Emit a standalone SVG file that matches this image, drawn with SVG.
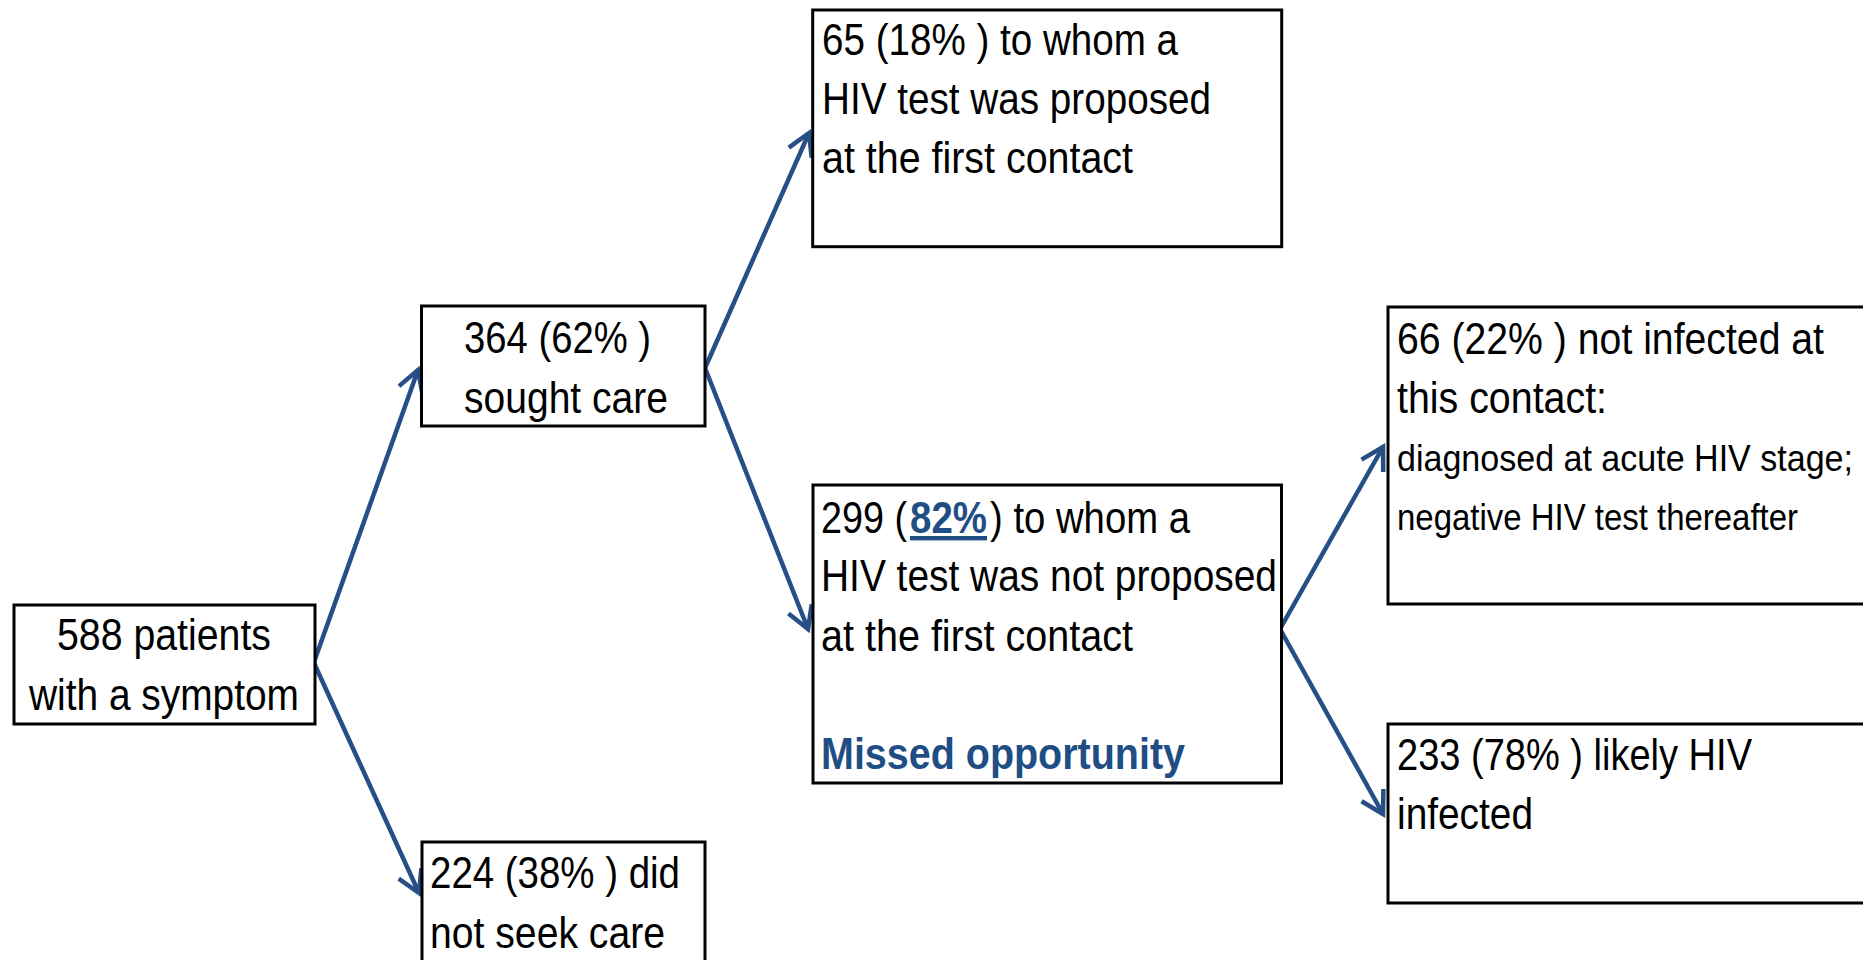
<svg xmlns="http://www.w3.org/2000/svg" width="1863" height="960" viewBox="0 0 1863 960">
<style>
.box{fill:#ffffff;stroke:#000000;stroke-width:3}
.t{font-family:"Liberation Sans",Arial,sans-serif;font-size:44px;fill:#000000}
.s{font-family:"Liberation Sans",Arial,sans-serif;font-size:37px;fill:#000000}
.b{font-family:"Liberation Sans",Arial,sans-serif;font-size:44px;font-weight:bold;fill:#1F4E85}
.u{text-decoration:underline}
.c{fill:none;stroke:#254F85;stroke-width:4.5}
</style>
<defs>
<marker id="arr" markerUnits="userSpaceOnUse" markerWidth="40" markerHeight="40" viewBox="-30 -20 40 40" refX="0" refY="0" orient="auto" overflow="visible">
<path d="M-21.6,-12.5 L0,0 L-21.6,12.5" fill="none" stroke="#254F85" stroke-width="4.5" stroke-linejoin="miter"/>
</marker>
</defs>
<rect width="1863" height="960" fill="#ffffff"/>
<g id="connectors">
<line class="c" x1="314" y1="662" x2="418" y2="370" marker-end="url(#arr)"/>
<line class="c" x1="314" y1="663" x2="419" y2="893" marker-end="url(#arr)"/>
<line class="c" x1="705" y1="368" x2="809" y2="133" marker-end="url(#arr)"/>
<line class="c" x1="705" y1="368" x2="808" y2="629" marker-end="url(#arr)"/>
<line class="c" x1="1280" y1="629" x2="1383" y2="447" marker-end="url(#arr)"/>
<line class="c" x1="1280" y1="629" x2="1383" y2="814" marker-end="url(#arr)"/>
</g>
<g id="n588">
<rect class="box" x="14" y="605" width="301" height="119"/>
<text class="t" x="57" y="650" textLength="214" lengthAdjust="spacingAndGlyphs">588 patients</text>
<text class="t" x="29" y="710" textLength="270" lengthAdjust="spacingAndGlyphs">with a symptom</text>
</g>
<g id="n364">
<rect class="box" x="421.5" y="306" width="283.5" height="120"/>
<text class="t" x="464" y="353" textLength="187" lengthAdjust="spacingAndGlyphs">364 (62% )</text>
<text class="t" x="464" y="413" textLength="204" lengthAdjust="spacingAndGlyphs">sought care</text>
</g>
<g id="n224">
<rect class="box" x="422" y="842" width="283" height="140"/>
<text class="t" x="430" y="888" textLength="250" lengthAdjust="spacingAndGlyphs">224 (38% ) did</text>
<text class="t" x="430" y="948" textLength="235" lengthAdjust="spacingAndGlyphs">not seek care</text>
</g>
<g id="n65">
<rect class="box" x="812.7" y="10" width="469" height="236.7"/>
<text class="t" x="822" y="55" textLength="356" lengthAdjust="spacingAndGlyphs">65 (18% ) to whom a</text>
<text class="t" x="822" y="114" textLength="389" lengthAdjust="spacingAndGlyphs">HIV test was proposed</text>
<text class="t" x="822" y="173" textLength="311" lengthAdjust="spacingAndGlyphs">at the first contact</text>
</g>
<g id="n299">
<rect class="box" x="813" y="485" width="468.5" height="298"/>
<text class="t" x="821" y="533" textLength="86" lengthAdjust="spacingAndGlyphs">299 (</text>
<text class="b u" x="910" y="533" textLength="77" lengthAdjust="spacingAndGlyphs">82%</text>
<text class="t" x="990" y="533" textLength="200" lengthAdjust="spacingAndGlyphs">) to whom a</text>
<text class="t" x="821" y="591" textLength="456" lengthAdjust="spacingAndGlyphs">HIV test was not proposed</text>
<text class="t" x="821" y="651" textLength="312" lengthAdjust="spacingAndGlyphs">at the first contact</text>
<text class="b" x="821" y="769" textLength="364" lengthAdjust="spacingAndGlyphs">Missed opportunity</text>
</g>
<g id="n66">
<rect class="box" x="1388" y="307" width="477" height="297"/>
<text class="t" x="1397" y="354" textLength="427" lengthAdjust="spacingAndGlyphs">66 (22% ) not infected at</text>
<text class="t" x="1397" y="413" textLength="210" lengthAdjust="spacingAndGlyphs">this contact:</text>
<text class="s" x="1397" y="471" textLength="456" lengthAdjust="spacingAndGlyphs">diagnosed at acute HIV stage;</text>
<text class="s" x="1397" y="530" textLength="401" lengthAdjust="spacingAndGlyphs">negative HIV test thereafter</text>
</g>
<g id="n233">
<rect class="box" x="1388" y="724" width="477" height="179"/>
<text class="t" x="1397" y="770" textLength="355" lengthAdjust="spacingAndGlyphs">233 (78% ) likely HIV</text>
<text class="t" x="1397" y="829" textLength="136" lengthAdjust="spacingAndGlyphs">infected</text>
</g>
</svg>
